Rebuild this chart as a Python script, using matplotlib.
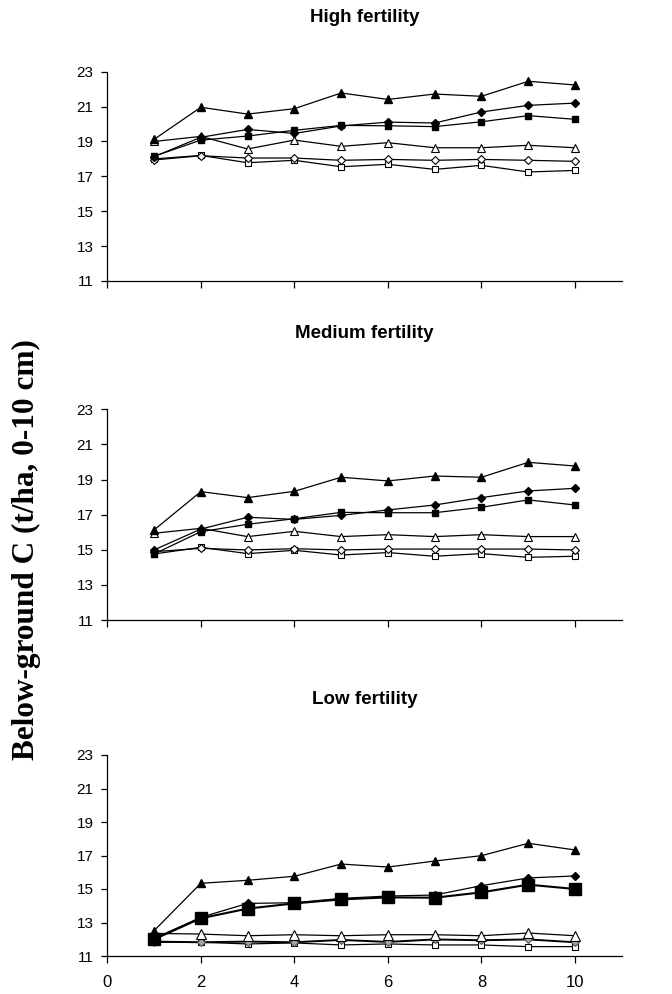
import matplotlib
matplotlib.use("Agg")
import matplotlib.pyplot as plt

plt.rcParams['font.family'] = ['Liberation Sans', 'DejaVu Sans']

years = [1, 2, 3, 4, 5, 6, 7, 8, 9, 10]

# High fertility
high_tri = [19.12, 20.96, 20.57, 20.88, 21.78, 21.41, 21.72, 21.59, 22.45, 22.24]
high_dia = [18.13, 19.24, 19.69, 19.46, 19.89, 20.11, 20.06, 20.69, 21.07, 21.20]
high_sq = [18.15, 19.08, 19.31, 19.64, 19.92, 19.90, 19.85, 20.13, 20.48, 20.27]
high_otri = [19.00, 19.29, 18.57, 19.08, 18.72, 18.93, 18.64, 18.64, 18.78, 18.64]
high_odia = [17.94, 18.18, 18.05, 18.05, 17.92, 17.97, 17.92, 17.97, 17.92, 17.86]
high_osq = [18.00, 18.20, 17.78, 17.92, 17.55, 17.69, 17.40, 17.63, 17.25, 17.34]

# Medium fertility
med_tri = [16.13, 18.31, 17.97, 18.33, 19.13, 18.92, 19.20, 19.13, 19.98, 19.77]
med_dia = [14.99, 16.18, 16.85, 16.73, 16.96, 17.27, 17.55, 17.97, 18.35, 18.50]
med_sq = [14.76, 16.03, 16.45, 16.77, 17.13, 17.11, 17.11, 17.42, 17.84, 17.55]
med_otri = [15.94, 16.22, 15.75, 16.05, 15.75, 15.86, 15.75, 15.86, 15.75, 15.75]
med_odia = [14.89, 15.08, 14.99, 15.06, 14.99, 15.04, 15.04, 15.04, 15.04, 14.99]
med_osq = [14.76, 15.14, 14.78, 14.97, 14.70, 14.84, 14.63, 14.78, 14.57, 14.63]

# Low fertility
low_tri = [12.51, 15.34, 15.52, 15.76, 16.49, 16.31, 16.67, 16.99, 17.73, 17.33]
low_dia = [12.05, 13.31, 14.14, 14.18, 14.44, 14.58, 14.64, 15.20, 15.66, 15.78]
low_sq = [12.00, 13.25, 13.83, 14.14, 14.38, 14.50, 14.48, 14.80, 15.26, 15.00]
low_otri = [12.35, 12.31, 12.21, 12.27, 12.21, 12.27, 12.27, 12.21, 12.37, 12.21]
low_odia = [11.86, 11.82, 11.86, 11.82, 11.96, 11.84, 11.99, 11.94, 11.99, 11.82]
low_osq = [11.82, 11.82, 11.72, 11.78, 11.66, 11.72, 11.66, 11.66, 11.56, 11.56]

titles = ["High fertility", "Medium fertility", "Low fertility"]
yticks = [11, 13, 15, 17, 19, 21, 23]
xticks = [0, 2, 4, 6, 8, 10]

W, H = 672, 994
fig = plt.figure(figsize=(W / 100, H / 100), dpi=100)

# axes boxes in pixels: (top, bottom)
boxes = [(71.7, 281.0), (409.3, 620.0), (755.0, 956.0)]
title_y = [18, 333, 700]
left_px, right_px = 107.3, 621.8

panels = [
    (high_tri, high_dia, high_sq, high_otri, high_odia, high_osq),
    (med_tri, med_dia, med_sq, med_otri, med_odia, med_osq),
    (low_tri, low_dia, low_sq, low_otri, low_odia, low_osq),
]

for i, (top, bot) in enumerate(boxes):
    ax = fig.add_axes([left_px / W, 1 - bot / H, (right_px - left_px) / W, (bot - top) / H])
    tri, dia, sq, otri, odia, osq = panels[i]
    lw = 0.9
    big = i == 2
    ax.plot(years, osq, color='black', lw=lw, marker='s', ms=5, mfc='white', mec='black', mew=0.8)
    ax.plot(years, odia, color='black', lw=1.4 if big else lw, marker='D', ms=4.2,
            mfc='#a6a6a6' if big else 'white', mec='black' if not big else '#555555', mew=0.8)
    ax.plot(years, otri, color='black', lw=lw, marker='^', ms=6.5 if big else 5.5, mfc='white', mec='black', mew=0.8)
    ax.plot(years, sq, color='black', lw=1.5 if big else lw, marker='s', ms=9 if big else 5, mfc='black', mec='black')
    ax.plot(years, dia, color='black', lw=lw, marker='D', ms=4.2, mfc='black', mec='black')
    ax.plot(years, tri, color='black', lw=lw, marker='^', ms=5.5, mfc='black', mec='black')

    ax.set_xlim(0, 11)
    ax.set_ylim(11, 23)
    ax.set_yticks(yticks)
    ax.set_xticks(xticks)
    for s in ['top', 'right']:
        ax.spines[s].set_visible(False)
    for s in ['left', 'bottom']:
        ax.spines[s].set_linewidth(0.9)
    ax.tick_params(axis='y', direction='out', length=4, width=0.9, pad=6, labelsize=11)
    ax.tick_params(axis='x', direction='out', length=5, width=0.9, pad=9, labelsize=12)
    if i < 2:
        ax.set_xticklabels([])
    for s in ax.spines.values():
        s.set_clip_on(False)

    fig.text((left_px + right_px) / 2 / W, 1 - title_y[i] / H, titles[i],
             ha='center', va='center', fontsize=13.5, fontweight='bold')

fig.text(26 / W, 1 - 550 / H, "Below-ground C (t/ha, 0-10 cm)", rotation=90,
         ha='center', va='center', fontsize=22.5, fontweight='bold',
         family=['Liberation Serif', 'DejaVu Serif'])

fig.savefig("out.png", dpi=100)
